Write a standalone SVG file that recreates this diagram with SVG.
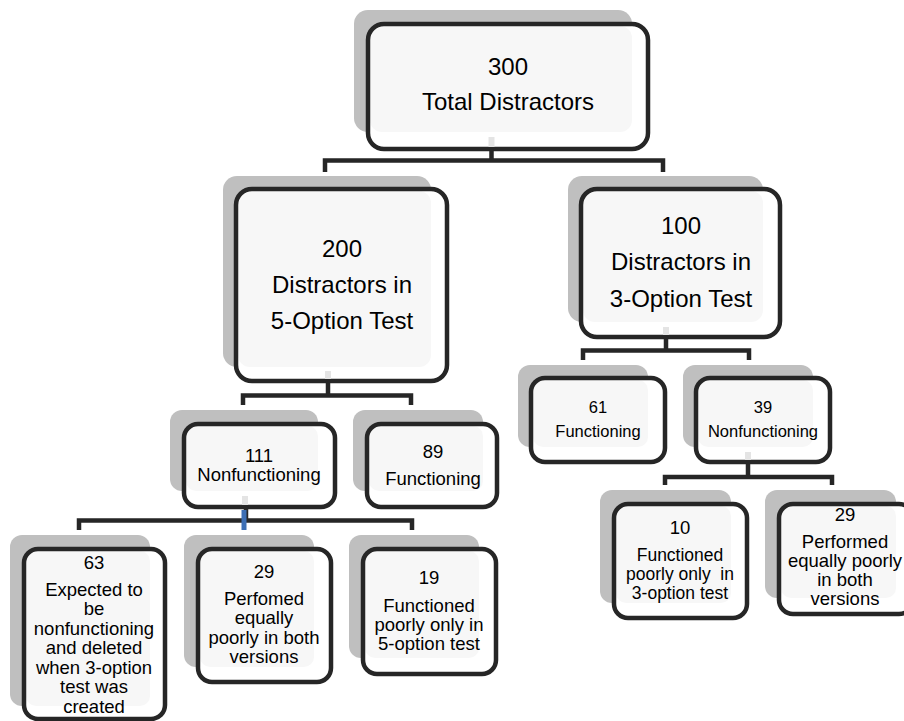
<svg xmlns="http://www.w3.org/2000/svg" width="904" height="721" viewBox="0 0 904 721">
<style>
.sh{fill:#bfbfbf}
.bg{fill:#ffffff}
.lt{fill:#f7f7f7}
.bd{fill:none;stroke:#262626;stroke-width:4.5}
.cn{fill:none;stroke:#262626;stroke-width:4.5}
.st{stroke:#e4e4e4;stroke-width:6}
text{font-family:"Liberation Sans",Arial,sans-serif;fill:#000;text-anchor:middle}
.t24{font-size:24px}
.t18{font-size:18.5px}
.t17{font-size:17.5px}
.t16{font-size:16.5px}
</style>
<rect width="904" height="721" fill="#ffffff"/>

<g id="node-300">
<rect class="sh" x="354" y="10" width="278" height="122" rx="14"/>
<rect class="bg" x="368" y="24" width="280" height="125" rx="16"/>
<rect class="lt" x="370" y="26" width="262" height="106" rx="12"/>
<rect class="bd" x="368" y="24" width="280" height="125" rx="16"/>
<text class="t24" x="508" y="75">300</text>
<text class="t24" x="508" y="110">Total Distractors</text>
</g>

<g id="node-200">
<rect class="sh" x="223" y="176" width="208" height="191" rx="14"/>
<rect class="bg" x="236" y="189" width="211" height="192" rx="16"/>
<rect class="lt" x="238" y="191" width="193" height="176" rx="12"/>
<rect class="bd" x="236" y="189" width="211" height="192" rx="16"/>
<text class="t24" x="342" y="257">200</text>
<text class="t24" x="342" y="293">Distractors in</text>
<text class="t24" x="342" y="329">5-Option Test</text>
</g>

<g id="node-100">
<rect class="sh" x="568" y="176" width="195" height="146" rx="14"/>
<rect class="bg" x="581" y="189" width="199" height="148" rx="16"/>
<rect class="lt" x="583" y="191" width="180" height="131" rx="12"/>
<rect class="bd" x="581" y="189" width="199" height="148" rx="16"/>
<text class="t24" x="681" y="234">100</text>
<text class="t24" x="681" y="270">Distractors in</text>
<text class="t24" x="681" y="307">3-Option Test</text>
</g>

<g id="node-111">
<rect class="sh" x="170" y="410" width="148" height="81" rx="12"/>
<rect class="bg" x="184" y="424" width="151" height="83" rx="14"/>
<rect class="lt" x="186" y="426" width="132" height="65" rx="10"/>
<rect class="bd" x="184" y="424" width="151" height="83" rx="14"/>
<text class="t18" x="259" y="462">111</text>
<text class="t18" x="259" y="481">Nonfunctioning</text>
</g>

<g id="node-89">
<rect class="sh" x="353" y="410" width="130" height="81" rx="12"/>
<rect class="bg" x="367" y="424" width="130" height="83" rx="14"/>
<rect class="lt" x="369" y="426" width="114" height="65" rx="10"/>
<rect class="bd" x="367" y="424" width="130" height="83" rx="14"/>
<text class="t18" x="433" y="458">89</text>
<text class="t18" x="433" y="485">Functioning</text>
</g>

<g id="node-63">
<rect class="sh" x="10" y="535" width="140" height="171" rx="12"/>
<rect class="bg" x="24" y="549" width="141" height="170" rx="14"/>
<rect class="lt" x="26" y="551" width="124" height="155" rx="10"/>
<rect class="bd" x="24" y="549" width="141" height="170" rx="14"/>
<text class="t18" x="94" y="569">63</text>
<text class="t18" x="94" y="596">Expected to</text>
<text class="t18" x="94" y="615">be</text>
<text class="t18" x="94" y="635">nonfunctioning</text>
<text class="t18" x="94" y="654">and deleted</text>
<text class="t18" x="94" y="674">when 3-option</text>
<text class="t18" x="94" y="693">test was</text>
<text class="t18" x="94" y="713">created</text>
</g>

<g id="node-29-left">
<rect class="sh" x="184" y="535" width="130" height="132" rx="12"/>
<rect class="bg" x="198" y="549" width="133" height="133" rx="14"/>
<rect class="lt" x="200" y="551" width="114" height="116" rx="10"/>
<rect class="bd" x="198" y="549" width="133" height="133" rx="14"/>
<text class="t18" x="264" y="578">29</text>
<text class="t18" x="264" y="605">Perfomed</text>
<text class="t18" x="264" y="624">equally</text>
<text class="t18" x="264" y="644">poorly in both</text>
<text class="t18" x="264" y="663">versions</text>
</g>

<g id="node-19">
<rect class="sh" x="349" y="535" width="130" height="123" rx="12"/>
<rect class="bg" x="363" y="549" width="133" height="125" rx="14"/>
<rect class="lt" x="365" y="551" width="114" height="107" rx="10"/>
<rect class="bd" x="363" y="549" width="133" height="125" rx="14"/>
<text class="t18" x="429" y="584">19</text>
<text class="t18" x="429" y="612">Functioned</text>
<text class="t18" x="429" y="631">poorly only in</text>
<text class="t18" x="429" y="650">5-option test</text>
</g>

<g id="node-61">
<rect class="sh" x="518" y="365" width="130" height="82" rx="12"/>
<rect class="bg" x="531" y="378" width="134" height="84" rx="14"/>
<rect class="lt" x="533" y="380" width="115" height="67" rx="10"/>
<rect class="bd" x="531" y="378" width="134" height="84" rx="14"/>
<text class="t16" x="598" y="413">61</text>
<text class="t16" x="598" y="437">Functioning</text>
</g>

<g id="node-39">
<rect class="sh" x="683" y="365" width="130" height="82" rx="12"/>
<rect class="bg" x="696" y="378" width="134" height="84" rx="14"/>
<rect class="lt" x="698" y="380" width="115" height="67" rx="10"/>
<rect class="bd" x="696" y="378" width="134" height="84" rx="14"/>
<text class="t16" x="763" y="413">39</text>
<text class="t16" x="763" y="437">Nonfunctioning</text>
</g>

<g id="node-10">
<rect class="sh" x="600" y="490" width="131" height="113" rx="12"/>
<rect class="bg" x="614" y="504" width="133" height="114" rx="14"/>
<rect class="lt" x="616" y="506" width="115" height="97" rx="10"/>
<rect class="bd" x="614" y="504" width="133" height="114" rx="14"/>
<text class="t18" x="680" y="534">10</text>
<text class="t17" x="680" y="561">Functioned</text>
<text class="t17" x="680" y="580" style="white-space:pre">poorly only  in</text>
<text class="t17" x="680" y="599">3-option test</text>
</g>

<g id="node-29-right">
<rect class="sh" x="765" y="490" width="131" height="108" rx="12"/>
<rect class="bg" x="779" y="504" width="134" height="110" rx="14"/>
<rect class="lt" x="781" y="506" width="115" height="92" rx="10"/>
<rect class="bd" x="779" y="504" width="134" height="110" rx="14"/>
<text class="t18" x="845" y="521">29</text>
<text class="t18" x="845" y="548">Performed</text>
<text class="t18" x="845" y="567">equally poorly</text>
<text class="t18" x="845" y="586">in both</text>
<text class="t18" x="845" y="605">versions</text>
</g>

<g id="connectors">
<line class="st" x1="491.5" y1="137" x2="491.5" y2="147"/>
<path class="cn" d="M491.5 149 V160.5 M325 172 V160.5 H663 V172"/>
<line class="st" x1="328" y1="371" x2="328" y2="379"/>
<path class="cn" d="M328 381 V395.5 M243 405 V395.5 H411 V405"/>
<line class="st" x1="666" y1="327" x2="666" y2="335"/>
<path class="cn" d="M666 337 V350.5 M583 360 V350.5 H749 V360"/>
<line class="st" x1="748" y1="452" x2="748" y2="460"/>
<path class="cn" d="M748 462 V477 M665 485 V477 H832 V485"/>
<line class="st" x1="245" y1="496" x2="245" y2="505"/>
<path class="cn" d="M246 507 V520.5 M79 530 V520.5 H412 V530"/>
<line x1="244" y1="510" x2="244" y2="530" stroke="#3d6fb5" stroke-width="5"/>
</g>
</svg>
